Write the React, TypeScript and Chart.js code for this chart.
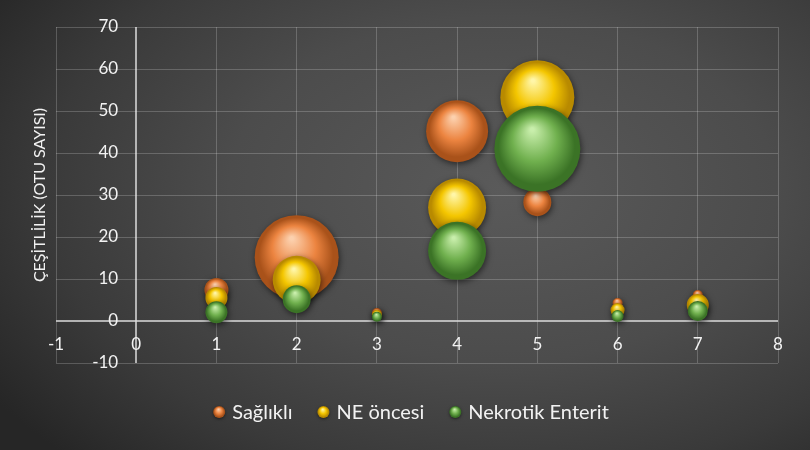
import React, { useEffect, useRef } from 'react';
import { Chart, registerables } from 'chart.js';
Chart.register(...registerables);

const seriesNames = ['Sağlıklı', 'NE öncesi', 'Nekrotik Enterit'];
const xValues = [1, 2, 3, 4, 5, 6, 7];
const saglikliY = [7.4, 15.2, 1.9, 45.2, 28.3, 4.3, 6.2];
const saglikliR = [12, 42, 5, 31, 14, 5, 5];
const neOncesiY = [5.5, 9.8, 1.5, 27, 53.3, 2.6, 3.8];
const neOncesiR = [11, 24, 5, 29, 37, 7, 11];
const nekrotikY = [2.1, 5.2, 1.0, 16.7, 41, 1.2, 2.4];
const nekrotikR = [11, 14, 5, 29, 43, 6, 10];
const yTitle = 'ÇEŞİTLİLİK (OTU SAYISI)';

const palettes = [
  { hi: '#fcd0ad', base: '#ec8440', dark: '#a9521a' },
  { hi: '#fff6a8', base: '#f4c600', dark: '#b88a00' },
  { hi: '#c8eeab', base: '#70b04e', dark: '#3b7326' },
];

const FONT = 'Lato, "Open Sans", sans-serif';
const TEXT = '#f2f2f2';

function sphere(ctx: CanvasRenderingContext2D, x: number, y: number, r: number, p: any) {
  const g = ctx.createRadialGradient(x - r * 0.12, y - r * 0.45, r * 0.04, x, y, r);
  g.addColorStop(0, p.hi);
  g.addColorStop(0.5, p.base);
  g.addColorStop(0.88, p.dark);
  g.addColorStop(1, p.dark);
  return g;
}

function makeDataset(i: number, ys: number[], rs: number[]) {
  const pal = palettes[i];
  return {
    label: seriesNames[i],
    data: xValues.map((x, k) => ({ x, y: ys[k], r: rs[k] })),
    order: 3 - i,
    borderWidth: 0,
    clip: false,
    backgroundColor: (c: any) => {
      const raw = c.raw;
      const xs = c.chart.scales.x;
      const ysc = c.chart.scales.y;
      if (!raw || c.type !== 'data' || !xs || !ysc) return pal.base;
      const px = xs.getPixelForValue(raw.x);
      const py = ysc.getPixelForValue(raw.y);
      if (!isFinite(px) || !isFinite(py) || !isFinite(raw.r) || raw.r <= 0) return pal.base;
      return sphere(c.chart.ctx, px, py, raw.r, pal);
    },
  };
}

const gridColor = (c: any) => (c.tick && c.tick.value === 0 ? 'rgba(220,220,220,0.75)' : 'rgba(255,255,255,0.2)');
const gridWidth = (c: any) => (c.tick && c.tick.value === 0 ? 2 : 1);

const decorPlugin = {
  id: 'decor',
  beforeDatasetsDraw(chart: any) {
    const ctx = chart.ctx;
    ctx.shadowColor = 'rgba(0,0,0,0.55)';
    ctx.shadowBlur = 6;
    ctx.shadowOffsetX = 1;
    ctx.shadowOffsetY = 2;
  },
  afterDatasetsDraw(chart: any) {
    const ctx = chart.ctx;
    ctx.shadowColor = 'rgba(0,0,0,0)';
    ctx.shadowBlur = 0;
    ctx.shadowOffsetX = 0;
    ctx.shadowOffsetY = 0;
  },
  afterDraw(chart: any) {
    const ctx = chart.ctx as CanvasRenderingContext2D;
    const area = chart.chartArea;
    const xs = chart.scales.x;
    const ys = chart.scales.y;
    const axisX = xs.getPixelForValue(0);
    const axisY = ys.getPixelForValue(0);
    ctx.save();
    ctx.fillStyle = TEXT;
    ctx.font = `17px ${FONT}`;
    ctx.textBaseline = 'middle';
    ctx.textAlign = 'right';
    ys.ticks.forEach((t: any) => {
      ctx.fillText(String(t.label), axisX - 18, ys.getPixelForValue(t.value));
    });
    ctx.textAlign = 'center';
    xs.ticks.forEach((t: any) => {
      ctx.fillText(String(t.label), xs.getPixelForValue(t.value), axisY + 24);
    });
    ctx.restore();
    ctx.save();
    ctx.fillStyle = TEXT;
    ctx.font = `16px ${FONT}`;
    ctx.textAlign = 'center';
    ctx.textBaseline = 'middle';
    ctx.translate(40, (area.top + area.bottom) / 2);
    ctx.rotate(-Math.PI / 2);
    ctx.fillText(yTitle, 0, 0);
    ctx.restore();
    ctx.save();
    ctx.font = `20px ${FONT}`;
    ctx.textBaseline = 'middle';
    ctx.textAlign = 'left';
    const dotR = 6;
    const dotGap = 13;
    const itemGap = 25;
    const widths = seriesNames.map((s) => ctx.measureText(s).width);
    const total = widths.reduce((a, w) => a + w + dotR + dotGap, 0) + itemGap * (seriesNames.length - 1);
    let x = (chart.width - total) / 2 + 6;
    const y = 412;
    seriesNames.forEach((s, i) => {
      const cx = x + dotR;
      ctx.shadowColor = 'rgba(0,0,0,0.5)';
      ctx.shadowBlur = 3;
      ctx.shadowOffsetY = 1;
      ctx.beginPath();
      ctx.arc(cx, y, dotR, 0, Math.PI * 2);
      ctx.fillStyle = sphere(ctx, cx, y, dotR, palettes[i]);
      ctx.fill();
      ctx.shadowColor = 'rgba(0,0,0,0)';
      ctx.shadowBlur = 0;
      ctx.shadowOffsetY = 0;
      ctx.fillStyle = TEXT;
      ctx.fillText(s, cx + dotGap, y + 1);
      x = cx + dotGap + widths[i] + itemGap;
    });
    ctx.restore();
  },
};

export default function App() {
  const ref = useRef<HTMLCanvasElement | null>(null);
  useEffect(() => {
    if (!ref.current) return;
    const chart = new Chart(ref.current, {
      type: 'bubble',
      data: {
        datasets: [
          makeDataset(0, saglikliY, saglikliR),
          makeDataset(1, neOncesiY, neOncesiR),
          makeDataset(2, nekrotikY, nekrotikR),
        ] as any,
      },
      options: {
        responsive: false,
        animation: false,
        events: [],
        layout: { autoPadding: false, padding: { left: 56, right: 32, top: 27, bottom: 87 } },
        plugins: { legend: { display: false }, tooltip: { enabled: false } },
        scales: {
          x: {
            type: 'linear',
            position: 'bottom',
            min: -1,
            max: 8,
            ticks: { stepSize: 1, display: false },
            grid: { color: gridColor, lineWidth: gridWidth, drawTicks: false },
            border: { display: false },
          },
          y: {
            type: 'linear',
            position: 'left',
            min: -10,
            max: 70,
            ticks: { stepSize: 10, display: false },
            grid: { color: gridColor, lineWidth: gridWidth, drawTicks: false },
            border: { display: false },
          },
        },
      },
      plugins: [decorPlugin],
    });
    return () => chart.destroy();
  }, []);
  return (
    <div
      style={{
        position: 'absolute',
        left: 0,
        top: 0,
        width: 810,
        height: 450,
        background: 'radial-gradient(ellipse 75% 85% at 62% 42%, #5a5a5a 0%, #4c4c4c 45%, #3a3a3a 75%, #262626 100%)',
      }}
    >
      <canvas ref={ref} width={810} height={450} />
    </div>
  );
}
